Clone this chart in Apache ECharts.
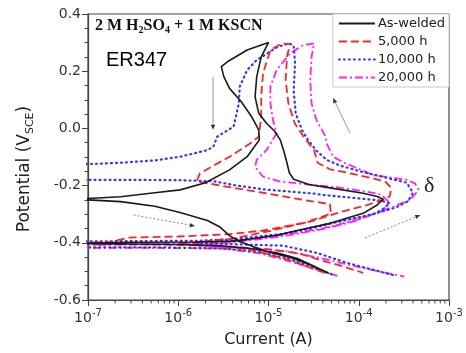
<!DOCTYPE html>
<html><head><meta charset="utf-8">
<script src="https://cdn.jsdelivr.net/npm/echarts@6/dist/echarts.min.js"></script>
<style>html,body{margin:0;padding:0;background:#fff}#c{width:466px;height:353px}</style>
</head><body><div id="c"></div>
<script>
// ---------------- data (current in A, potential in V vs SCE), path order ----------------
const seriesNames = ['As-welded', '5,000 h', '10,000 h', '20,000 h'];

const asWeldedCurrent = [
  4.7e-5, 3.2e-5, 2.1e-5, 1.26e-5, 6.3e-6, 3.2e-6, 1.0e-6, 2.5e-7, 5e-8,
  5e-8, 3.2e-7, 1.6e-6, 4.0e-6, 6.3e-6, 1.26e-5, 2.2e-5, 4.8e-5, 1.12e-4, 1.6e-4, 1.86e-4, 1.6e-4, 1.12e-4, 4.8e-5, 2.8e-5, 1.9e-5, 1.7e-5, 1.6e-5, 1.48e-5, 1.35e-5, 1.17e-5, 9.5e-6, 7.8e-6, 7.1e-6, 7.4e-6, 8.3e-6, 1.0e-5,
  5.8e-6, 3.5e-6, 3.0e-6, 3.2e-6, 3.7e-6, 5.0e-6, 6.5e-6, 7.8e-6, 7.9e-6, 7.2e-6, 5.8e-6, 3.7e-6, 2.0e-6, 1.05e-6, 5.5e-7, 2.3e-7, 1.0e-7, 5e-8,
  5e-8, 1.0e-7, 2.3e-7, 5.5e-7, 1.07e-6, 2.1e-6, 2.9e-6, 3.7e-6, 4.7e-6, 9.5e-6, 1.78e-5, 2.8e-5, 4.5e-5
];
const asWeldedPotential = [
  -0.507, -0.482, -0.455, -0.436, -0.420, -0.411, -0.406, -0.404, -0.403,
  -0.399, -0.398, -0.397, -0.394, -0.387, -0.373, -0.355, -0.332, -0.297, -0.268, -0.248, -0.238, -0.227, -0.208, -0.196, -0.178, -0.155, -0.120, -0.080, -0.040, -0.010, 0.018, 0.053, 0.110, 0.180, 0.250, 0.300,
  0.274, 0.233, 0.216, 0.181, 0.140, 0.093, 0.041, -0.006, -0.041, -0.058, -0.099, -0.145, -0.190, -0.215, -0.225, -0.239, -0.245, -0.247,
  -0.249, -0.250, -0.256, -0.272, -0.295, -0.322, -0.345, -0.375, -0.395, -0.430, -0.452, -0.475, -0.505
];

const h5000Current = [
  4.2e-5, 2.5e-5, 1.6e-5, 1.0e-5, 5.6e-6, 2.5e-6, 6.3e-7, 5e-8,
  5e-8, 1.8e-7, 2.8e-7, 1.0e-6, 3.7e-6, 8.7e-6, 2.0e-5, 2.9e-5, 6.2e-5, 1.23e-4, 1.86e-4, 2.2e-4, 2.3e-4, 2.0e-4, 1.45e-4, 6.8e-5, 4.8e-5, 3.5e-5, 3.2e-5, 2.45e-5, 1.95e-5, 1.66e-5, 1.55e-5, 1.6e-5, 1.74e-5,
  1.4e-5, 1.05e-5, 8.7e-6, 8.3e-6, 8.3e-6, 7.8e-6, 6.3e-6, 3.7e-6, 1.74e-6, 1.6e-6, 2.6e-6, 8.7e-6, 1.74e-5, 3.2e-5, 4.8e-5, 4.9e-5, 2.5e-5, 1.0e-5, 4.0e-6, 1.6e-6, 1.0e-6,
  2.5e-6, 1.0e-5, 2.2e-5, 3.7e-5, 6.3e-5, 1.12e-4
];
const h5000Potential = [
  -0.505, -0.480, -0.458, -0.440, -0.422, -0.410, -0.406, -0.405,
  -0.399, -0.397, -0.382, -0.378, -0.370, -0.357, -0.336, -0.326, -0.293, -0.268, -0.250, -0.238, -0.209, -0.188, -0.175, -0.152, -0.143, -0.120, -0.076, -0.029, 0.018, 0.088, 0.169, 0.251, 0.295,
  0.297, 0.274, 0.193, 0.111, 0.041, -0.029, -0.052, -0.099, -0.157, -0.185, -0.197, -0.225, -0.242, -0.256, -0.265, -0.298, -0.330, -0.360, -0.385, -0.398, -0.402,
  -0.410, -0.422, -0.437, -0.460, -0.480, -0.505
];

const h10000Current = [
  5.0e-5, 2.8e-5, 1.6e-5, 7.9e-6, 3.2e-6, 6.3e-7, 5e-8,
  5e-8, 3.2e-7, 1.6e-6, 3.7e-6, 1.35e-5, 2.9e-5, 6.2e-5, 1.45e-4, 2.6e-4, 3.5e-4, 4.0e-4, 3.4e-4, 2.0e-4, 1.12e-4, 6.2e-5, 4.4e-5, 3.4e-5, 2.75e-5, 2.35e-5, 2.0e-5, 1.9e-5, 1.97e-5, 1.9e-5,
  1.7e-5, 1.26e-5, 7.4e-6, 5.8e-6, 4.8e-6, 4.7e-6, 4.1e-6, 2.7e-6, 2.45e-6, 2.1e-6, 1.05e-6, 5.5e-7, 2.3e-7, 1.0e-7, 5e-8,
  5e-8, 1.0e-7, 3.2e-7, 1.0e-6, 2.5e-6, 4.1e-6, 8.7e-6, 1.74e-5, 3.2e-5, 4.1e-5, 9.5e-5, 1.74e-4, 2.2e-4, 1.8e-4, 1.45e-4, 6.2e-5, 2.9e-5, 1.35e-5, 4.0e-6, 1.6e-6,
  4.0e-6, 1.45e-5, 3.4e-5, 7.4e-5, 2.4e-4
];
const h10000Potential = [
  -0.510, -0.480, -0.455, -0.432, -0.420, -0.416, -0.416,
  -0.396, -0.394, -0.393, -0.388, -0.370, -0.350, -0.325, -0.300, -0.276, -0.255, -0.225, -0.190, -0.172, -0.153, -0.130, -0.110, -0.078, -0.041, -0.006, 0.053, 0.134, 0.228, 0.290,
  0.297, 0.285, 0.239, 0.204, 0.146, 0.088, 0.006, -0.029, -0.064, -0.076, -0.099, -0.112, -0.120, -0.125, -0.127,
  -0.180, -0.180, -0.180, -0.181, -0.185, -0.198, -0.213, -0.221, -0.228, -0.233, -0.244, -0.252, -0.262, -0.285, -0.300, -0.325, -0.348, -0.372, -0.392, -0.402,
  -0.405, -0.410, -0.435, -0.470, -0.513
];

const h20000Current = [
  5.8e-5, 3.2e-5, 1.6e-5, 7.9e-6, 3.2e-6, 6.3e-7, 5e-8,
  5e-8, 3.2e-7, 1.6e-6, 3.7e-6, 1.0e-5, 2.0e-5, 4.1e-5, 9.5e-5, 2.2e-4, 3.7e-4, 4.6e-4, 4.2e-4, 3.4e-4, 1.45e-4, 7.1e-5, 5.2e-5, 4.4e-5, 4.3e-5, 3.4e-5, 3.0e-5, 2.9e-5, 3.0e-5, 3.2e-5,
  2.45e-5, 1.74e-5, 1.23e-5, 1.05e-5, 1.05e-5, 1.12e-5, 1.23e-5, 9.5e-6, 7.4e-6, 7.1e-6, 8.7e-6, 1.35e-5, 3.2e-5, 5.2e-5, 1.23e-4, 1.78e-4, 2.2e-4, 1.78e-4, 8.9e-5, 4.0e-5, 1.6e-5, 5.0e-6, 1.6e-6,
  5.0e-6, 1.6e-5, 4.0e-5, 1.0e-4, 3.2e-4
];
const h20000Potential = [
  -0.516, -0.490, -0.462, -0.437, -0.420, -0.418, -0.418,
  -0.408, -0.406, -0.403, -0.396, -0.380, -0.365, -0.349, -0.320, -0.279, -0.250, -0.215, -0.192, -0.180, -0.163, -0.122, -0.099, -0.052, -0.029, 0.029, 0.088, 0.169, 0.251, 0.297,
  0.292, 0.263, 0.204, 0.146, 0.088, 0.029, -0.017, -0.076, -0.110, -0.134, -0.169, -0.186, -0.198, -0.204, -0.221, -0.232, -0.260, -0.290, -0.325, -0.352, -0.375, -0.395, -0.410,
  -0.418, -0.430, -0.455, -0.485, -0.518
];

// annotation anchor points (data coordinates)
const arrowDownFrom = [2.43e-6, 0.18],  arrowDownTo = [2.43e-6, -0.005];
const arrowLeftFrom = [3.2e-7, -0.303], arrowLeftTo = [1.53e-6, -0.341];
const arrowUpFrom = [8.0e-5, -0.016],   arrowUpTo = [5.2e-5, 0.106];
const arrowRightFrom = [1.17e-4, -0.383], arrowRightTo = [4.8e-4, -0.303];

// ---------------- chart ----------------
const zip = (I, E) => I.map((v, i) => [v, E[i]]);
const seriesData = [
  zip(asWeldedCurrent, asWeldedPotential),
  zip(h5000Current, h5000Potential),
  zip(h10000Current, h10000Potential),
  zip(h20000Current, h20000Potential)
];
const lineStyles = [
  { color: '#1a1a1a', type: 'solid', width: 1.6 },
  { color: '#ff2424', type: [8, 4], width: 1.8 },
  { color: '#3535ff', type: [1, 4], width: 2.2, cap: 'round' },
  { color: '#ff1fff', type: [8, 3, 2, 3], width: 1.8 }
];

const chart = echarts.init(document.getElementById('c'), null, { renderer: 'canvas' });
const axisColor = '#444';
const font = 'DejaVu Sans';

const series = seriesNames.map((n, i) => ({
  name: n, type: 'line', data: seriesData[i], symbol: 'none', showSymbol: false,
  lineStyle: lineStyles[i], itemStyle: { color: lineStyles[i].color },
  smooth: false, clip: true, z: 5 - i, animation: false
}));

chart.setOption({
  animation: false,
  grid: { left: 88, right: 17, top: 14, bottom: 53, show: true, borderColor: axisColor, borderWidth: 1.2, backgroundColor: 'transparent' },
  legend: {
    data: seriesNames, orient: 'vertical', right: 17, top: 14,
    itemWidth: 36, itemHeight: 14, itemGap: 5, padding: [3, 4, 3, 5],
    borderColor: '#c8c8c8', borderWidth: 1, backgroundColor: '#fff',
    itemStyle: { opacity: 0 },
    textStyle: { fontFamily: font, fontSize: 13, color: '#222', padding: [0, 0, 0, -2] }
  },
  xAxis: {
    type: 'log', logBase: 10, min: 1e-7, max: 1e-3,
    splitLine: { show: false },
    axisLine: { onZero: false, lineStyle: { color: axisColor, width: 1.2 } },
    axisTick: { inside: false, length: 6, lineStyle: { color: axisColor } },
    axisLabel: {
      margin: 8, color: '#333',
      formatter: v => '{b|10}{s|' + Math.round(Math.log10(v)) + '}',
      rich: {
        b: { fontFamily: font, fontSize: 14, lineHeight: 20, verticalAlign: 'middle', color: '#333' },
        s: { fontFamily: font, fontSize: 10, lineHeight: 10, verticalAlign: 'top', color: '#333' }
      }
    },
    name: 'Current (A)', nameLocation: 'middle', nameGap: 32,
    nameTextStyle: { fontFamily: font, fontSize: 16, color: '#222' }
  },
  yAxis: {
    type: 'value', min: -0.6, max: 0.4, interval: 0.2,
    splitLine: { show: false },
    axisLine: { show: true, onZero: false, lineStyle: { color: axisColor, width: 1.2 } },
    axisTick: { show: true, inside: false, length: 6, lineStyle: { color: axisColor } },
    minorTick: { show: true, splitNumber: 4, length: 3.5, lineStyle: { color: axisColor } },
    axisLabel: { margin: 7, fontFamily: font, fontSize: 14, color: '#333', formatter: v => (Math.abs(v) < 1e-9 ? 0 : v).toFixed(1) },
    name: 'Potential (V{s|SCE})', nameLocation: 'middle', nameGap: 52, nameRotate: 90,
    nameTextStyle: {
      fontFamily: font, fontSize: 17, color: '#222', padding: [0, 24, 0, 0],
      rich: { s: { fontFamily: font, fontSize: 11, color: '#222', verticalAlign: 'bottom', lineHeight: 22 } }
    }
  },
  series
});

function arrow(from, to, opts) {
  const a = chart.convertToPixel({ gridIndex: 0 }, from);
  const b = chart.convertToPixel({ gridIndex: 0 }, to);
  const dx = b[0] - a[0], dy = b[1] - a[1], L = Math.hypot(dx, dy);
  const ux = dx / L, uy = dy / L, hl = 5, hw = 2.2;
  const bx = b[0] - ux * hl, by = b[1] - uy * hl;
  return [
    { type: 'line', shape: { x1: a[0], y1: a[1], x2: bx, y2: by }, style: { stroke: opts.color, lineWidth: 1, lineDash: opts.dash || null }, z: 20 },
    { type: 'polygon', shape: { points: [[b[0], b[1]], [bx - uy * hw, by + ux * hw], [bx + uy * hw, by - ux * hw]] }, style: { fill: '#333' }, z: 20 }
  ];
}

const graphics = []
  .concat(arrow(arrowDownFrom, arrowDownTo, { color: '#999' }))
  .concat(arrow(arrowLeftFrom, arrowLeftTo, { color: '#888', dash: [2, 2] }))
  .concat(arrow(arrowUpFrom, arrowUpTo, { color: '#999' }))
  .concat(arrow(arrowRightFrom, arrowRightTo, { color: '#888', dash: [2, 2] }));

// x-axis minor ticks (2..9 per decade), placed through the axis scale
for (let e = -7; e < -3; e++) {
  for (let m = 2; m <= 9; m++) {
    const p = chart.convertToPixel({ gridIndex: 0 }, [m * Math.pow(10, e), -0.6]);
    graphics.push({ type: 'line', shape: { x1: p[0], y1: p[1], x2: p[0], y2: p[1] + 3.5 }, style: { stroke: axisColor, lineWidth: 1 }, z: 20, silent: true });
  }
}

graphics.push({
  type: 'text', left: 95, top: 18, z: 30,
  style: {
    text: '{b|2 M H}{s|2}{b|SO}{s|4}{b| + 1 M KSCN}',
    rich: {
      b: { fontFamily: 'Liberation Serif', fontWeight: 'bold', fontSize: 16, lineHeight: 19, verticalAlign: 'middle', fill: '#111' },
      s: { fontFamily: 'Liberation Serif', fontWeight: 'bold', fontSize: 10, lineHeight: 10, verticalAlign: 'bottom', fill: '#111' }
    }
  }
});
graphics.push({ type: 'text', left: 106, top: 50, z: 30, style: { text: 'ER347', fontFamily: 'Liberation Sans', fontSize: 20, fill: '#000' } });
graphics.push({ type: 'text', left: 424, top: 175, z: 30, style: { text: 'δ', fontFamily: 'Liberation Serif', fontSize: 22, fill: '#222' } });

chart.setOption({ graphic: graphics });
</script>
</body></html>
